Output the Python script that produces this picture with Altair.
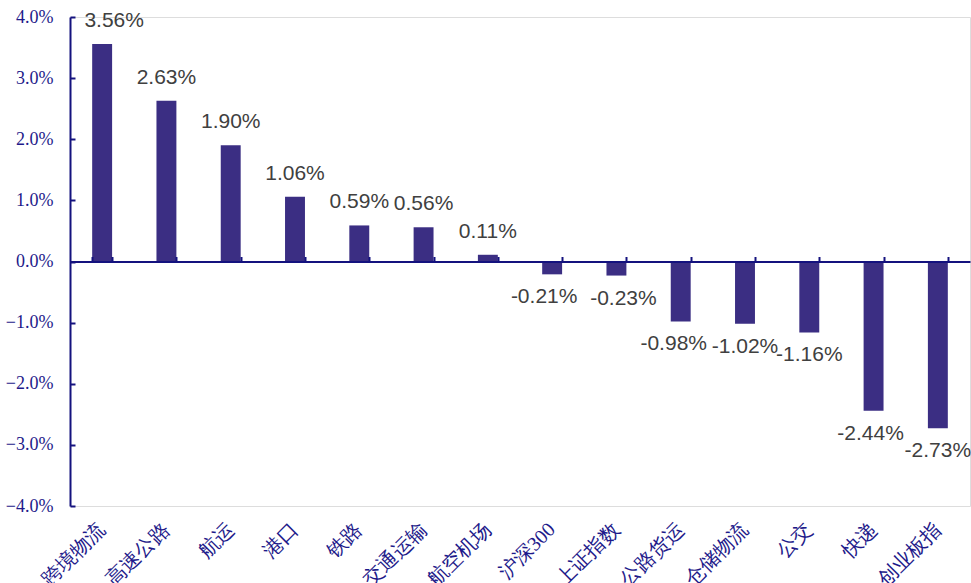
import altair as alt
import pandas as pd

categories = ["跨境物流", "高速公路", "航运", "港口", "铁路", "交通运输", "航空机场",
              "沪深300", "上证指数", "公路货运", "仓储物流", "公交", "快递", "创业板指"]
values = [3.56, 2.63, 1.90, 1.06, 0.59, 0.56, 0.11,
          -0.21, -0.23, -0.98, -1.02, -1.16, -2.44, -2.73]

df = pd.DataFrame({"cat": categories, "v": [x / 100 for x in values]})
df["label"] = [f"{x:.2f}%" for x in values]

AXIS_COLOR = "#14127E"
TEXT_COLOR = "#1E1A8A"
BAR_COLOR = "#3B2E83"
LABEL_COLOR = "#404040"

W, H = 900, 489
ZERO = H / 2
YTICKS = [-0.04, -0.03, -0.02, -0.01, 0, 0.01, 0.02, 0.03, 0.04]
SERIF = "Liberation Serif"

# horizontal nudges of a few data labels (as placed in the reference)
NUDGE = {"跨境物流": 12, "沪深300": -8, "上证指数": 7, "公路货运": -7, "快递": -3}

xscale = alt.Scale(paddingInner=0.69, paddingOuter=0.345)
yscale = alt.Scale(domain=[-0.04, 0.04], nice=False)

bars = alt.Chart(df).mark_bar(color=BAR_COLOR).encode(
    x=alt.X("cat:N", sort=categories, scale=xscale,
            axis=alt.Axis(orient="bottom", title=None, domain=False, ticks=False,
                          labelAngle=-45, labelAlign="right", labelBaseline="middle",
                          labelFont=SERIF, labelFontSize=20,
                          labelColor=TEXT_COLOR, labelPadding=20, labelOverlap=False)),
    y=alt.Y("v:Q", scale=yscale,
            axis=alt.Axis(orient="left", title=None, domain=False, ticks=False, grid=False,
                          values=YTICKS,
                          format=".1%", labelFont=SERIF, labelFontSize=18,
                          labelColor=TEXT_COLOR, labelPadding=17)),
)

# invisible carrier layer for the zero-line axis and the y axis line with inward ticks
axes_layer = alt.Chart(df).mark_point(opacity=0).encode(
    x=alt.X("cat:N", sort=categories, scale=xscale,
            axis=alt.Axis(orient="top", title=None, labels=False, domain=True,
                          domainColor=AXIS_COLOR, domainWidth=2, tickColor=AXIS_COLOR,
                          tickWidth=2, tickSize=5, tickBand="extent", offset=-ZERO,
                          zindex=1)),
    y=alt.Y("v:Q", scale=yscale,
            axis=alt.Axis(orient="right", title=None, labels=False, grid=False,
                          values=YTICKS,
                          domainColor=AXIS_COLOR, domainWidth=2, tickColor=AXIS_COLOR,
                          tickWidth=2, tickSize=5, offset=-W, zindex=1)),
)

layers = [bars, axes_layer]
df["nudge"] = [NUDGE.get(c, 0) for c in categories]
for positive in (True, False):
    sub = df[(df["v"] >= 0) == positive]
    for dx, grp in sub.groupby("nudge"):
        layers.append(
            alt.Chart(grp.drop(columns=["nudge"])).mark_text(
                font="Liberation Sans", fontSize=21, color=LABEL_COLOR,
                baseline="middle", dy=-23 if positive else 23, dx=int(dx)
            ).encode(
                x=alt.X("cat:N", sort=categories, scale=xscale, axis=None),
                y=alt.Y("v:Q", scale=yscale, axis=None),
                text="label:N",
            )
        )

chart = alt.layer(*layers).resolve_axis(
    x="independent", y="independent"
).properties(
    width=W, height=H,
    autosize=alt.AutoSizeParams(type="none"),
    padding={"left": 70, "top": 17, "right": 1, "bottom": 77},
).configure_view(stroke=None).configure(background="white")

chart.save("out.html", embed_options={"renderer": "svg", "actions": False})
